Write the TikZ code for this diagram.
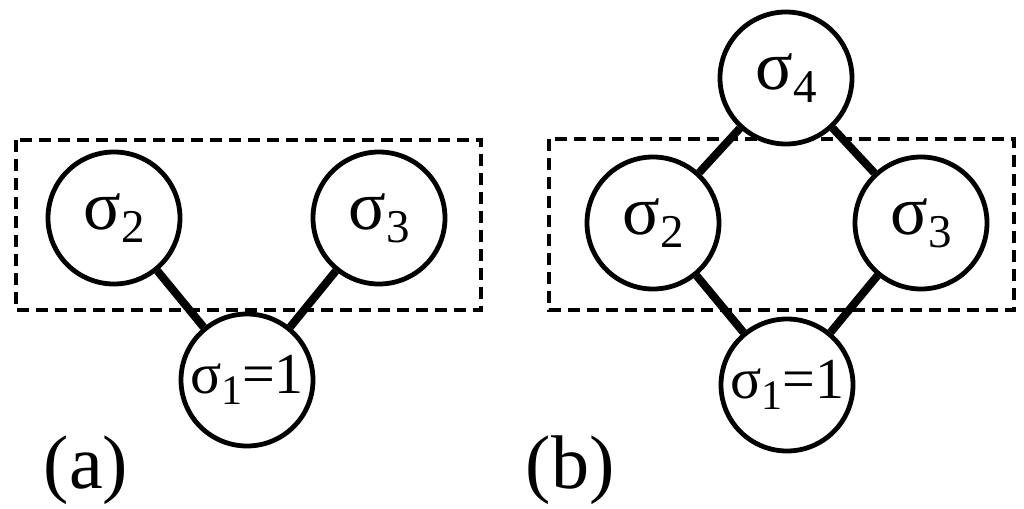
\documentclass[tikz,border=0pt]{standalone}
\usepackage{fontspec}
\setmainfont{Liberation Serif}
\newcommand\sgbig[1]{{\fontsize{70}{70}\selectfont σ\raisebox{-13pt}{\fontsize{47}{47}\selectfont #1}}}
\newcommand\sgone{{\fontsize{58}{58}\selectfont σ\raisebox{-11pt}{\fontsize{42}{42}\selectfont 1}=1}}
\tikzset{
  spin/.style={circle, draw, line width=4.8pt, fill=white, minimum size=132pt, inner sep=0pt},
  bond/.style={line width=8pt},
  group/.style={line width=4.5pt, dash pattern=on 12pt off 7pt},
  panel/.style={font=\fontsize{76}{76}\selectfont, inner sep=0pt}
}
\begin{document}
\begin{tikzpicture}[x=1pt,y=-1pt]
\useasboundingbox (0,0) rectangle (1024,508);
% panel (a)
\draw[group] (16,140) rectangle (481,310);
\node[spin] (a2) at (114,218) {\sgbig{2}};
\node[spin] (a3) at (379,218) {\sgbig{3}};
\node[spin] (a1) at (247,380) {\sgone};
\draw[bond] (a2) -- (a1);
\draw[bond] (a3) -- (a1);
\node[panel] (la) at (86,470) {(a)};
% panel (b)
\draw[group] (549,139) rectangle (1014,310);
\node[spin] (b4) at (786,78) {\sgbig{4}};
\node[spin] (b2) at (653,223) {\sgbig{2}};
\node[spin] (b3) at (921,223) {\sgbig{3}};
\node[spin] (b1) at (787,385) {\sgone};
\draw[bond] (b4) -- (b2);
\draw[bond] (b4) -- (b3);
\draw[bond] (b2) -- (b1);
\draw[bond] (b3) -- (b1);
\node[panel] (lb) at (570,470) {(b)};
\end{tikzpicture}
\end{document}
